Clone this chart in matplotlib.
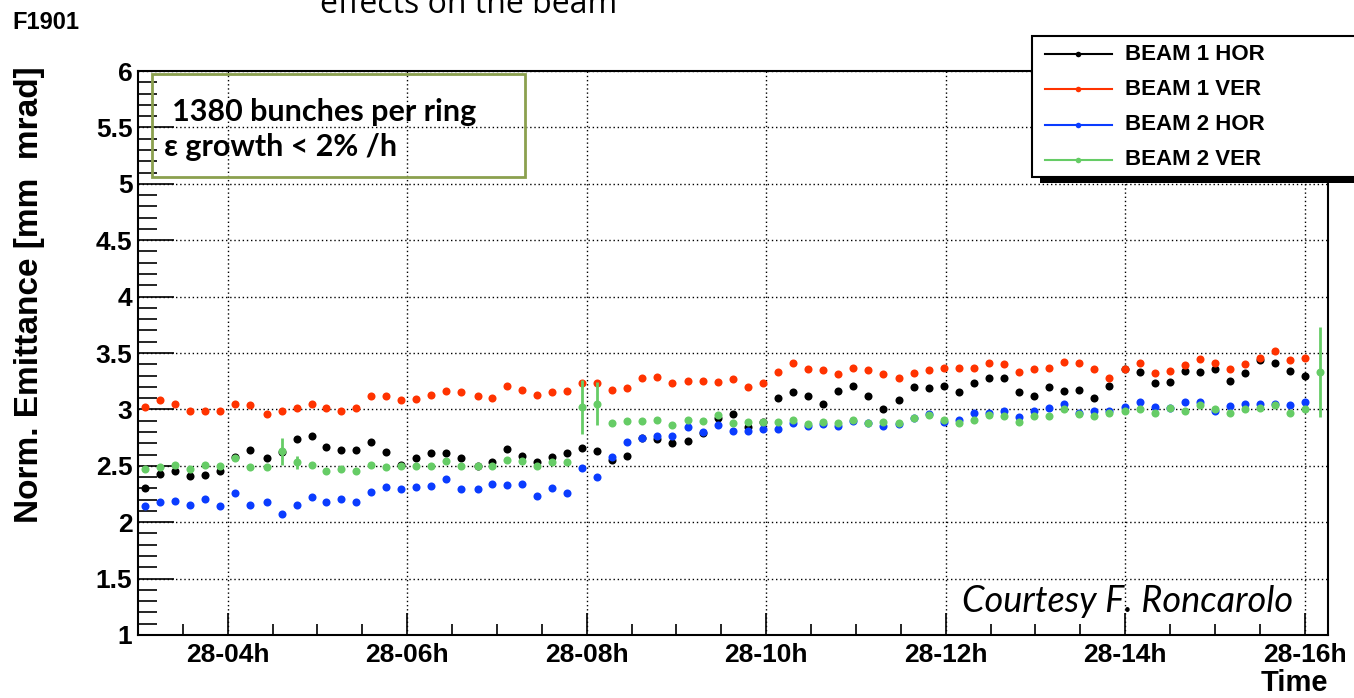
import matplotlib.pyplot as plt
from matplotlib.lines import Line2D
from matplotlib.patches import Rectangle
import numpy as np

# -- Measurement times (day 28) --
times = ["03:05", "03:15", "03:25", "03:35", "03:45", "03:55", "04:05", "04:15", "04:26", "04:36",
         "04:46", "04:56", "05:06", "05:16", "05:26", "05:36", "05:46", "05:56", "06:06", "06:16",
         "06:26", "06:36", "06:47", "06:57", "07:07", "07:17", "07:27", "07:37", "07:47", "07:57",
         "08:07", "08:17", "08:27", "08:37", "08:47", "08:57", "09:08", "09:18", "09:28", "09:38",
         "09:48", "09:58", "10:08", "10:18", "10:28", "10:38", "10:48", "10:58", "11:08", "11:18",
         "11:29", "11:39", "11:49", "11:59", "12:09", "12:19", "12:29", "12:39", "12:49", "12:59",
         "13:09", "13:19", "13:29", "13:39", "13:49", "14:00", "14:10", "14:20", "14:30", "14:40",
         "14:50", "15:00", "15:10", "15:20", "15:30", "15:40", "15:50", "16:00", "16:10"]

# -- Normalised emittance [mm mrad] --
b1_hor = [2.30, 2.43, 2.45, 2.41, 2.42, 2.45, 2.58, 2.64, 2.57, 2.62, 2.74, 2.76, 2.67, 2.64, 2.64, 2.71, 2.62, 2.51, 2.57, 2.61,
          2.61, 2.57, 2.50, 2.53, 2.65, 2.59, 2.53, 2.58, 2.61, 2.66, 2.63, 2.55, 2.59, 2.75, 2.74, 2.70, 2.72, 2.79, 2.92,
          2.96, 2.84, 2.89, 3.10, 3.15, 3.12, 3.05, 3.16, 3.21, 3.12, 3.00, 3.08, 3.20, 3.19, 3.21, 3.15, 3.23, 3.28, 3.28, 3.15,
          3.12, 3.20, 3.16, 3.17, 3.10, 3.21, 3.36, 3.33, 3.23, 3.24, 3.34, 3.33, 3.36, 3.25, 3.32, 3.44, 3.41, 3.34, 3.30]
b1_ver = [3.02, 3.08, 3.05, 2.99, 2.99, 2.99, 3.05, 3.04, 2.96, 2.99, 3.01, 3.05, 3.01, 2.99, 3.01, 3.12, 3.12, 3.08, 3.09, 3.13,
          3.16, 3.15, 3.12, 3.10, 3.21, 3.17, 3.13, 3.15, 3.16, 3.23, 3.23, 3.17, 3.19, 3.28, 3.29, 3.23, 3.25, 3.25, 3.24,
          3.27, 3.20, 3.23, 3.33, 3.41, 3.36, 3.35, 3.31, 3.37, 3.35, 3.31, 3.28, 3.32, 3.35, 3.37, 3.37, 3.37, 3.41, 3.40, 3.33,
          3.36, 3.37, 3.42, 3.41, 3.36, 3.28, 3.36, 3.41, 3.32, 3.34, 3.39, 3.45, 3.41, 3.36, 3.40, 3.46, 3.52, 3.44, 3.46]
b2_hor = [2.14, 2.18, 2.19, 2.15, 2.21, 2.14, 2.26, 2.15, 2.18, 2.07, 2.15, 2.22, 2.18, 2.21, 2.18, 2.27, 2.31, 2.29, 2.31, 2.32,
          2.38, 2.29, 2.29, 2.34, 2.33, 2.34, 2.23, 2.30, 2.26, 2.48, 2.40, 2.58, 2.71, 2.75, 2.76, 2.76, 2.84, 2.80, 2.86,
          2.81, 2.81, 2.83, 2.83, 2.88, 2.85, 2.87, 2.85, 2.90, 2.88, 2.85, 2.87, 2.92, 2.96, 2.89, 2.91, 2.97, 2.97, 2.99, 2.93,
          2.99, 3.01, 3.05, 2.97, 2.99, 2.99, 3.02, 3.07, 3.02, 3.01, 3.07, 3.07, 2.99, 3.03, 3.05, 3.05, 3.05, 3.04, 3.07]
b2_ver = [2.47, 2.49, 2.51, 2.47, 2.51, 2.50, 2.57, 2.49, 2.49, 2.63, 2.53, 2.51, 2.45, 2.47, 2.45, 2.51, 2.49, 2.50, 2.50, 2.50,
          2.54, 2.50, 2.50, 2.50, 2.55, 2.54, 2.50, 2.53, 2.53, 3.02, 3.05, 2.88, 2.90, 2.90, 2.91, 2.86, 2.91, 2.90, 2.95,
          2.88, 2.89, 2.89, 2.89, 2.91, 2.87, 2.89, 2.88, 2.91, 2.88, 2.89, 2.88, 2.92, 2.95, 2.91, 2.88, 2.91, 2.95, 2.94, 2.89,
          2.94, 2.94, 3.00, 2.96, 2.94, 2.97, 2.99, 3.00, 2.97, 3.01, 2.99, 3.04, 3.00, 2.97, 3.00, 3.01, 3.04, 2.97, 3.00, 3.33]

# beam 2 ver points that carry a visible error bar
err_times = ["04:36", "04:46", "07:57", "08:07", "16:10"]
err_vals = [0.12, 0.06, 0.24, 0.19, 0.40]

labels = ["BEAM 1 HOR", "BEAM 1 VER", "BEAM 2 HOR", "BEAM 2 VER"]
colors = ["#000000", "#ff3300", "#0a3cff", "#66cc66"]
hour_ticks = [4, 6, 8, 10, 12, 14, 16]

W, H = 1354, 698
BOLD = dict(family="Liberation Sans", fontweight="bold")


def fx(px):
    return px / W


def fy(py):
    return 1 - py / H


def to_hours(t):
    h, m = t.split(":")
    return int(h) + int(m) / 60


hours = np.array([to_hours(t) for t in times])
green_err = np.zeros(len(b2_ver))
for t, e in zip(err_times, err_vals):
    green_err[times.index(t)] = e

fig = plt.figure(figsize=(W / 100, H / 100), dpi=100)
ax = fig.add_axes([fx(138), fy(635), fx(1328) - fx(138), fy(71) - fy(635)])

for vals, col in zip([b1_hor, b1_ver, b2_hor], colors[:3]):
    ax.plot(hours[:len(vals)], vals, "o", color=col, ms=5.8, mew=0, zorder=3)
ax.errorbar(hours, b2_ver, yerr=green_err, fmt="o", color=colors[3], ms=5.8, mew=0,
            elinewidth=2, capsize=0, zorder=3)

ax.set_xlim(3.0, 16.26)
ax.set_ylim(1, 6)
ax.set_xticks(hour_ticks)
ax.set_xticklabels(["28-%02dh" % h for h in hour_ticks])
ax.set_xticks(np.arange(3.5, 16.3, 0.5), minor=True)
ax.set_yticks(np.arange(1, 6.01, 0.5))
ax.set_yticklabels(["%g" % v for v in np.arange(1, 6.01, 0.5)])
ax.set_yticks(np.arange(1, 6.01, 0.1), minor=True)
ax.tick_params(axis="x", which="major", direction="in", length=16, width=1.2, pad=6)
ax.tick_params(axis="x", which="minor", direction="in", length=8, width=1.2)
ax.tick_params(axis="y", which="major", direction="in", length=26, width=1.2, pad=4)
ax.tick_params(axis="y", which="minor", direction="in", length=13.5, width=1.2)
for lab in ax.get_xticklabels() + ax.get_yticklabels():
    lab.set_fontfamily("Liberation Sans")
    lab.set_fontweight("bold")
    lab.set_fontsize(19)
ax.grid(True, which="major", color="black", linestyle=(0, (1, 2)), linewidth=1)
for sp in ax.spines.values():
    sp.set_linewidth(1.5)

fig.text(fx(30), fy(295), "Norm. Emittance [mm  mrad]", rotation=90, ha="center", va="center",
         fontsize=24, **BOLD)
fig.text(fx(1328), fy(697), "Time", ha="right", va="bottom", fontsize=21, **BOLD)
fig.text(fx(12), fy(11), "F1901", ha="left", va="top", fontsize=17, **BOLD)
fig.text(fx(320), fy(13), "effects on the beam", ha="left", va="baseline", fontsize=23,
         family="Open Sans")

# info box
fig.add_artist(Rectangle((fx(152), fy(177)), fx(525) - fx(152), fy(74) - fy(177),
                         transform=fig.transFigure, facecolor="none", edgecolor="#8ba04e", lw=2))
fig.text(fx(172), fy(121), "1380 bunches per ring", ha="left", va="baseline", fontsize=22,
         family=["Lato", "DejaVu Sans"], fontweight="bold")
fig.text(fx(164), fy(156), "ε growth < 2% /h", ha="left", va="baseline", fontsize=22,
         family=["Lato", "DejaVu Sans"], fontweight="bold")

fig.text(fx(1293), fy(612), "Courtesy F. Roncarolo", ha="right", va="baseline", fontsize=26,
         family="Lato", style="italic")

# legend with drop shadow
fig.add_artist(Rectangle((fx(1040), fy(183)), fx(1370) - fx(1040), fy(42) - fy(183),
                         transform=fig.transFigure, facecolor="black", edgecolor="none", zorder=4))
fig.add_artist(Rectangle((fx(1032), fy(177)), fx(1362) - fx(1032), fy(36) - fy(177),
                         transform=fig.transFigure, facecolor="white", edgecolor="black", lw=1.5, zorder=5))
for row, (lab, col) in enumerate(zip(labels, colors)):
    y = fy(54 + row * 35.3)
    fig.add_artist(Line2D([fx(1045), fx(1112)], [y, y], color=col, lw=1.5,
                          transform=fig.transFigure, zorder=6))
    fig.add_artist(Line2D([fx(1078)], [y], marker="o", ms=4, mew=0, color=col,
                          transform=fig.transFigure, zorder=6))
    fig.text(fx(1125), y, lab, ha="left", va="center", fontsize=16, zorder=6, **BOLD)

fig.savefig("out.png", dpi=100)
